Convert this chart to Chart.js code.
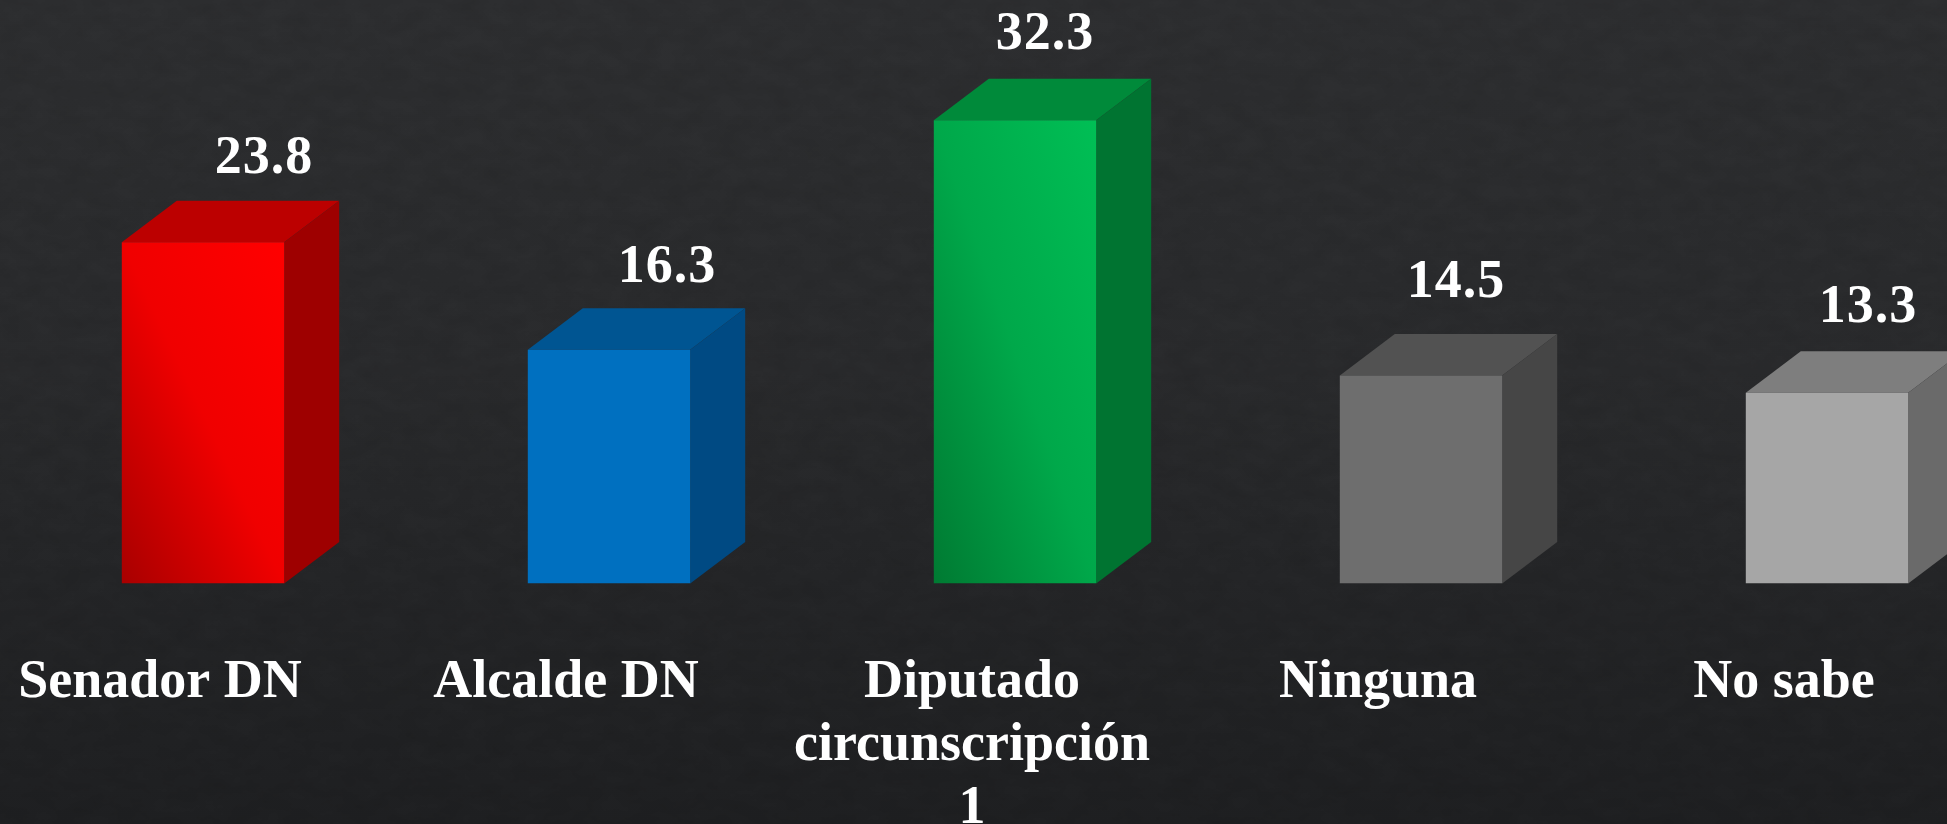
<!DOCTYPE html>
<html><head><meta charset="utf-8">
<style>
html,body{margin:0;padding:0;width:1947px;height:824px;overflow:hidden;background:#262628;}
#wrap{position:absolute;left:0;top:0;width:1947px;height:824px;overflow:hidden;
background:linear-gradient(180deg,#2e2f31 0%,#2a2b2d 45%,#1f2022 100%);}
#grain{position:absolute;left:0;top:0;width:1947px;height:824px;opacity:.08;
background-image:url("data:image/svg+xml;utf8,<svg xmlns='http://www.w3.org/2000/svg' width='1947' height='824'><filter id='n'><feTurbulence type='fractalNoise' baseFrequency='0.035 0.06' numOctaves='4' seed='7'/><feColorMatrix values='0 0 0 0 0  0 0 0 0 0  0 0 0 0 0  1.6 0 0 0 -0.45'/></filter><rect width='1947' height='824' filter='url(%23n)'/></svg>");}
canvas{display:block;position:absolute;left:0;top:0;}
</style>
<script src="https://cdn.jsdelivr.net/npm/chart.js@4/dist/chart.umd.js"></script>
</head><body><div id="wrap"><div id="grain"></div><canvas id="c" width="2030" height="824"></canvas></div>
<script>
const categories = ["Senador DN","Alcalde DN",["Diputado","circunscripción","1"],"Ninguna","No sabe"];
const values = [23.8,16.3,32.3,14.5,13.3];

const frontLight = ["#ff0000","#0070c0","#00bf55","#6e6e6e","#a6a6a6"];
const frontMid   = ["#f00000","#0070c0","#00a84a","#6e6e6e","#a6a6a6"];
const frontDark  = ["#a80000","#0070c0","#007a32","#6e6e6e","#a6a6a6"];
const topFace    = ["#bc0000","#005592","#008a3a","#525252","#7e7e7e"];
const sideFace   = ["#9e0000","#004a83","#007431","#464646","#6a6a6a"];
const labelDx    = [61,58,30,35,41];
const labelDy    = [-69,-68,-71,-79,-71];
const depthX = 55, depthY = 41.5;
const serif = '"Liberation Serif","DejaVu Serif",serif';

function frontFill(ctx){
  const chart = ctx.chart, i = ctx.dataIndex;
  if(!chart.chartArea || !chart.scales.x) return frontLight[i];
  const xs = chart.scales.x, ys = chart.scales.y;
  const w = 162, l = xs.getPixelForValue(i)-w/2, base = ys.getPixelForValue(0), h = base-ys.getPixelForValue(values[i]);
  // gradient runs perpendicular to the bar's top-left to bottom-right diagonal
  const k = 2*w*h/(w*w+h*h);
  const g = chart.ctx.createLinearGradient(l, base, l+h*k, base-w*k);
  g.addColorStop(0, frontDark[i]);
  g.addColorStop(0.5, frontMid[i]);
  g.addColorStop(1, frontLight[i]);
  return g;
}

const box3d = {
  id:'box3d',
  beforeDatasetsDraw(chart){
    const c = chart.ctx;
    chart.getDatasetMeta(0).data.forEach((b,i)=>{
      const l=b.x-b.width/2, r=b.x+b.width/2, t=b.y, bo=b.base;
      c.fillStyle=topFace[i];
      c.beginPath();c.moveTo(l,t);c.lineTo(l+depthX,t-depthY);c.lineTo(r+depthX,t-depthY);c.lineTo(r,t);c.closePath();c.fill();
      c.fillStyle=sideFace[i];
      c.beginPath();c.moveTo(r,t);c.lineTo(r+depthX,t-depthY);c.lineTo(r+depthX,bo-depthY);c.lineTo(r,bo);c.closePath();c.fill();
    });
  },
  afterDatasetsDraw(chart){
    const c = chart.ctx;
    c.save();
    c.fillStyle='#ffffff';
    c.font='bold 54px '+serif;
    c.letterSpacing='1px';
    c.textAlign='center';c.textBaseline='alphabetic';
    chart.getDatasetMeta(0).data.forEach((b,i)=>{
      c.fillText(values[i].toFixed(1), b.x+labelDx[i], b.y+labelDy[i]);
    });
    c.restore();
  }
};

new Chart(document.getElementById('c'),{
  type:'bar',
  data:{labels:categories,datasets:[{data:values,backgroundColor:frontFill,borderWidth:0,categoryPercentage:0.4,barPercentage:1}]},
  plugins:[box3d],
  options:{
    responsive:false,animation:false,
    layout:{padding:0},
    plugins:{legend:{display:false},title:{display:false},tooltip:{enabled:false}},
    scales:{
      x:{
        grid:{display:false,drawTicks:false},border:{display:false},
        afterFit(s){s.height=240.5;s.paddingLeft=0;s.paddingRight=0;},
        ticks:{color:'#ffffff',autoSkip:false,maxRotation:0,minRotation:0,labelOffset:-43,padding:68,
          font:{family:serif,weight:'bold',size:54,lineHeight:1.17}}
      },
      y:{display:false,min:0,max:40.69,grid:{display:false}}
    }
  }
});
</script></body></html>
